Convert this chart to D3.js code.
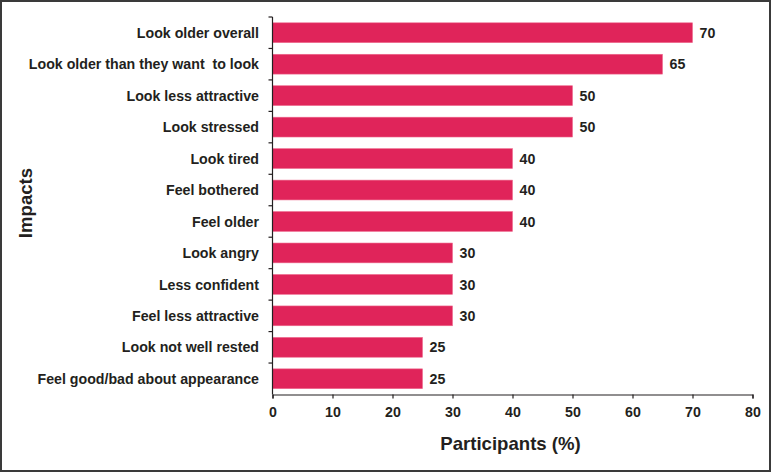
<!DOCTYPE html>
<html><head><meta charset="utf-8">
<script src="https://cdn.jsdelivr.net/npm/d3@7"></script>
<style>body{margin:0;background:#fff}svg{display:block}text{font-family:"Liberation Sans",Arial,sans-serif;font-weight:bold;fill:#231f20;white-space:pre}</style>
</head><body>
<svg id="c" width="775" height="473"></svg>
<script>
const categories = ["Look older overall","Look older than they want  to look","Look less attractive","Look stressed","Look tired","Feel bothered","Feel older","Look angry","Less confident","Feel less attractive","Look not well rested","Feel good/bad about appearance"];
const values = [70,65,50,50,40,40,40,30,30,30,25,25];
const xTicks = [0,10,20,30,40,50,60,70,80];
const xTitle = "Participants (%)";
const yTitle = "Impacts";

(function(){
const svg = d3.select("#c");
svg.append("rect").attr("x",1).attr("y",1).attr("width",769).attr("height",470)
  .attr("fill","#fff").attr("stroke","#3a3a3a").attr("stroke-width",2);

const pLeft = 272.5, pRight = 752.5, pTop = 17, pBottom = 394.5;
const x = d3.scaleLinear().domain([0,80]).range([pLeft,pRight]);
const y = d3.scaleBand().domain(categories).range([pTop,pBottom]).paddingInner(0.37).paddingOuter(0.185);

const g = svg.append("g");
g.selectAll("rect.bar").data(categories).enter().append("rect")
  .attr("class","bar")
  .attr("x",x(0)).attr("y",d=>y(d))
  .attr("width",(d,i)=>x(values[i])-x(0)).attr("height",y.bandwidth())
  .attr("fill","#e0245a").attr("stroke","#ee6a8e").attr("stroke-width",0.6);

g.selectAll("text.val").data(categories).enter().append("text")
  .attr("class","val")
  .attr("x",(d,i)=>x(values[i])+7).attr("y",d=>y(d)+y.bandwidth()/2)
  .attr("dy","0.36em").attr("font-size",14.2).text((d,i)=>values[i]);

const axisColor = "#231f20";
g.append("line").attr("x1",pLeft).attr("x2",pLeft).attr("y1",pTop).attr("y2",pBottom).attr("stroke",axisColor).attr("stroke-width",1.2);
const bounds = d3.range(categories.length).map(i=>pTop+i*(pBottom-pTop)/categories.length);
g.selectAll("line.ytick").data(bounds).enter().append("line")
  .attr("x1",pLeft-4).attr("x2",pLeft).attr("y1",d=>d).attr("y2",d=>d).attr("stroke",axisColor).attr("stroke-width",1.2);

g.selectAll("text.cat").data(categories).enter().append("text")
  .attr("class","cat").attr("x",259).attr("y",d=>y(d)+y.bandwidth()/2)
  .attr("dy","0.36em").attr("text-anchor","end").attr("font-size",14.2).text(d=>d);

const xa = svg.append("g").attr("transform",`translate(0,${pBottom})`)
  .call(d3.axisBottom(x).tickValues(xTicks).tickSize(4).tickPadding(8.5).tickFormat(d3.format("d")));
xa.select(".domain").attr("stroke",axisColor).attr("stroke-width",1.2);
xa.selectAll(".tick line").attr("stroke",axisColor).attr("stroke-width",1.2);
xa.selectAll(".tick text").attr("font-size",14.2).attr("fill","#231f20").attr("font-family","Liberation Sans, Arial, sans-serif").attr("font-weight","bold");

svg.append("text").attr("x",510.5).attr("y",450).attr("text-anchor","middle").attr("font-size",18.6).text(xTitle);
svg.append("text").attr("transform","translate(32,203) rotate(-90)").attr("text-anchor","middle").attr("font-size",18.6).text(yTitle);
})();
</script>
</body></html>
